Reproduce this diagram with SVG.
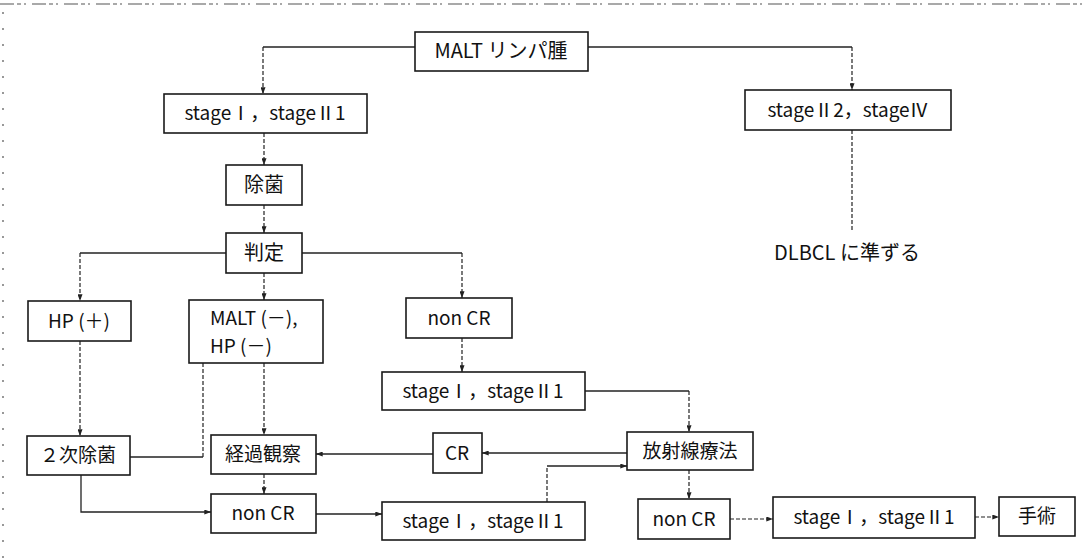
<svg xmlns="http://www.w3.org/2000/svg" width="1087" height="558" viewBox="0 0 1087 558">
<defs>
<style>
.box rect{fill:#fff;stroke:#1a1a1a;stroke-width:1.6}
text{font-family:"Noto Sans CJK JP","Liberation Sans",sans-serif;font-size:19px;fill:#111}
.c{text-anchor:middle}
.sol{fill:none;stroke:#222;stroke-width:1.3}
.dsh{fill:none;stroke:#222;stroke-width:1.2;stroke-dasharray:4 2}
.frame{fill:none;stroke:#555;stroke-width:1.2}
</style>
<marker id="ah" viewBox="0 0 8 6" refX="8" refY="3" markerWidth="7" markerHeight="5" markerUnits="userSpaceOnUse" orient="auto">
<path d="M0,0 L8,3 L0,6 z" fill="#222"/>
</marker>
</defs>
<rect width="1087" height="558" fill="#fff"/>
<g id="frame">
<path class="frame" d="M0,4 H1087" stroke-dasharray="14 3 4 3 2 6"/>
<path class="frame" d="M3,12 V558" stroke-dasharray="2 14"/>
</g>
<g id="connectors">
<path class="sol" d="M415,47 H263"/>
<path class="dsh" d="M263,47 V94" marker-end="url(#ah)"/>
<path class="sol" d="M588,47 H852"/>
<path class="dsh" d="M852,47 V90" marker-end="url(#ah)"/>
<path class="dsh" d="M264,133 V165" marker-end="url(#ah)"/>
<path class="dsh" d="M264,205 V233" marker-end="url(#ah)"/>
<path class="sol" d="M226,253 H80"/>
<path class="dsh" d="M80,253 V301" marker-end="url(#ah)"/>
<path class="sol" d="M302,253 H462"/>
<path class="dsh" d="M462,253 V298" marker-end="url(#ah)"/>
<path class="dsh" d="M264,273 V300" marker-end="url(#ah)"/>
<path class="dsh" d="M80,341 V436" marker-end="url(#ah)"/>
<path class="dsh" d="M203,363 V457"/>
<path class="sol" d="M203,457 H130"/>
<path class="dsh" d="M264,363 V435" marker-end="url(#ah)"/>
<path class="dsh" d="M264,474 V494" marker-end="url(#ah)"/>
<path class="sol" d="M81,475 V512 H211" marker-end="url(#ah)"/>
<path class="dsh" d="M462,338 V372" marker-end="url(#ah)"/>
<path class="sol" d="M585,391 H689"/>
<path class="dsh" d="M689,391 V432" marker-end="url(#ah)"/>
<path class="sol" d="M627,453 H482" marker-end="url(#ah)"/>
<path class="sol" d="M433,454 H316" marker-end="url(#ah)"/>
<path class="sol" d="M316,514 H382" marker-end="url(#ah)"/>
<path class="dsh" d="M547,502 V466"/>
<path class="sol" d="M547,466 H627" marker-end="url(#ah)"/>
<path class="dsh" d="M689,470 V499" marker-end="url(#ah)"/>
<path class="dsh" d="M730,519 H773" marker-end="url(#ah)"/>
<path class="dsh" d="M975,517 H999" marker-end="url(#ah)"/>
<path class="dsh" d="M852,130 V230"/>
</g>
<g id="n-malt" class="box"><rect x="415" y="32" width="173" height="39"/><text class="c" x="501" y="58" style="font-size:20px">MALT リンパ腫</text></g>
<g id="n-stage1" class="box"><rect x="164" y="94" width="203" height="39"/><text class="c" x="265" y="120">stageⅠ，stageⅡ1</text></g>
<g id="n-stage2" class="box"><rect x="745" y="90" width="206" height="40"/><text class="c" x="848" y="117">stageⅡ2，stageⅣ</text></g>
<g id="n-dlbcl"><text class="c" x="847" y="260" style="font-size:20px">DLBCL に準ずる</text></g>
<g id="n-jokin" class="box"><rect x="226" y="165" width="76" height="40"/><text class="c" x="264" y="192" style="font-size:20px">除菌</text></g>
<g id="n-hantei" class="box"><rect x="226" y="233" width="76" height="40"/><text class="c" x="264" y="260" style="font-size:20px">判定</text></g>
<g id="n-hpplus" class="box"><rect x="28" y="301" width="103" height="40"/><text class="c" x="79" y="328">HP (＋)</text></g>
<g id="n-maltneg" class="box"><rect x="189" y="300" width="134" height="63"/><text x="210" y="325">MALT (－),</text><text x="210" y="353">HP (－)</text></g>
<g id="n-noncr1" class="box"><rect x="406" y="298" width="106" height="40"/><text class="c" x="459" y="325">non CR</text></g>
<g id="n-stage3" class="box"><rect x="382" y="372" width="203" height="38"/><text class="c" x="483" y="398">stageⅠ，stageⅡ1</text></g>
<g id="n-jokin2" class="box"><rect x="27" y="436" width="103" height="39"/><text class="c" x="78" y="462">２次除菌</text></g>
<g id="n-keika" class="box"><rect x="211" y="435" width="105" height="39"/><text class="c" x="263" y="461">経過観察</text></g>
<g id="n-cr" class="box"><rect x="433" y="433" width="49" height="40"/><text class="c" x="457" y="460">CR</text></g>
<g id="n-rt" class="box"><rect x="627" y="432" width="126" height="38"/><text class="c" x="690" y="458">放射線療法</text></g>
<g id="n-noncr2" class="box"><rect x="211" y="494" width="105" height="39"/><text class="c" x="263" y="520">non CR</text></g>
<g id="n-stage4" class="box"><rect x="382" y="502" width="203" height="38"/><text class="c" x="483" y="528">stageⅠ，stageⅡ1</text></g>
<g id="n-noncr3" class="box"><rect x="638" y="499" width="92" height="40"/><text class="c" x="684" y="526">non CR</text></g>
<g id="n-stage5" class="box"><rect x="773" y="497" width="202" height="41"/><text class="c" x="874" y="524">stageⅠ，stageⅡ1</text></g>
<g id="n-shujutsu" class="box"><rect x="999" y="497" width="76" height="39"/><text class="c" x="1037" y="523">手術</text></g>
</svg>
